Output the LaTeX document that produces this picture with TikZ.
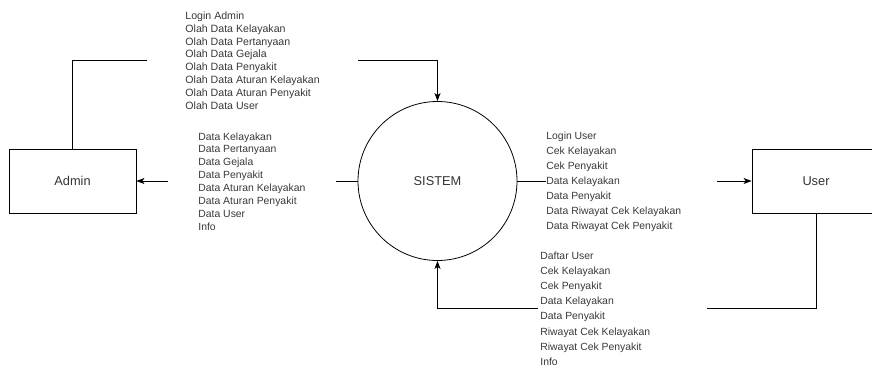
\documentclass[tikz,border=0pt]{standalone}
\usepackage{fontspec}
\setmainfont{Liberation Sans}
\usepackage{tikz}
\usetikzlibrary{arrows.meta}
\usetikzlibrary{calc}

\begin{document}
\begin{tikzpicture}[x=1pt,y=-1pt,>={Stealth[length=8pt,width=6pt,inset=2pt]},line width=0.8pt,
  ent node/.style={rectangle,draw,minimum width=127pt,minimum height=64pt,inner sep=0pt,font=\fontsize{12.8}{14}\selectfont,text=black!80},
  proc node/.style={circle,draw,minimum size=159pt,inner sep=0pt,font=\fontsize{12.8}{14}\selectfont,text=black!80},
  flow label/.style={align=left,anchor=west,inner ysep=0pt,text=black!78}]

  \useasboundingbox (0,0) rectangle (872,367);

  \node[ent node] (Admin) at (72.5,181) {Admin};
  \node[ent node,minimum width=128pt] (User) at (816,181) {User};
  \node[proc node] (SISTEM) at (437.5,181) {SISTEM};

  % labels on the flows
  \node[flow label,inner xsep=38pt,font=\fontsize{10.6}{12.8}\selectfont] (inAdmin) at (147,60.5)
    {Login Admin\\Olah Data Kelayakan\\Olah Data Pertanyaan\\Olah Data Gejala\\Olah Data Penyakit\\Olah Data Aturan Kelayakan\\Olah Data Aturan Penyakit\\Olah Data User};
  \node[flow label,inner xsep=30pt,font=\fontsize{10.4}{12.9}\selectfont] (outAdmin) at (168,181.5)
    {Data Kelayakan\\Data Pertanyaan\\Data Gejala\\Data Penyakit\\Data Aturan Kelayakan\\Data Aturan Penyakit\\Data User\\Info};
  \node[flow label,inner xsep=0pt,font=\fontsize{10.4}{15.1}\selectfont] (outUser) at (546,182)
    {Login User\\Cek Kelayakan\\Cek Penyakit\\Data Kelayakan\\Data Penyakit\\Data Riwayat Cek Kelayakan\\Data Riwayat Cek Penyakit};
  \node[flow label,inner xsep=0pt,font=\fontsize{10.4}{15.2}\selectfont] (inUser) at (540,308.5)
    {Daftar User\\Cek Kelayakan\\Cek Penyakit\\Data Kelayakan\\Data Penyakit\\Riwayat Cek Kelayakan\\Riwayat Cek Penyakit\\Info};

  \coordinate (uArr) at (717,181);
  \coordinate (uRet) at (707,308);
  \coordinate (sRet) at (538,308);

  \draw (Admin.north) |- (inAdmin.west);
  \draw[->] (inAdmin.east) -| (SISTEM.north);
  \draw (SISTEM.west) -- (outAdmin.east |- SISTEM.west);
  \draw[->] (outAdmin.west |- Admin.east) -- (Admin.east);
  \draw (SISTEM.east) -- (outUser.west |- SISTEM.east);
  \draw[->] (uArr) -- (User.west);
  \draw (User.south) |- (uRet);
  \draw[->] (sRet) -| (SISTEM.south);
\end{tikzpicture}
\end{document}
